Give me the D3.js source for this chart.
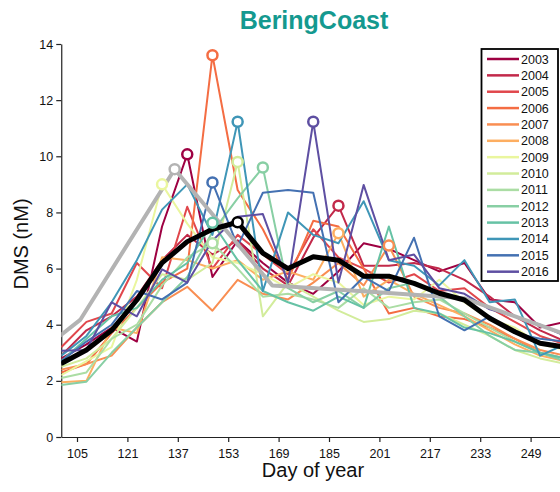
<!DOCTYPE html>
<html>
<head>
<meta charset="utf-8">
<script src="https://cdn.jsdelivr.net/npm/d3@7"></script>
<style>
  body { margin: 0; background: #fff; }
  text { font-family: "Liberation Sans", Arial, sans-serif; }
</style>
</head>
<body>
<div id="chart"></div>
<script>
// 8-day composites, day of year
const days = [100, 108, 116, 124, 132, 140, 148, 156, 164, 172, 180, 188, 196, 204, 212, 220, 228, 236, 244, 252, 260]
const years = ["2003", "2004", "2005", "2006", "2007", "2008", "2009", "2010", "2011", "2012", "2013", "2014", "2015", "2016"]
const yearColors = ["#9e0142", "#c2294a", "#e0474c", "#f46d43", "#f98e52", "#fdae61", "#eaf69e",
    "#d2ec9b", "#abdda4", "#88cfa4", "#66c2a5", "#3f96b7", "#4471b2", "#5e4fa2"]

const dms2003 = [2.8, 3.3, 3.9, 3.4, 7.5, 10.07, 5.7, 7.0, 6.2, 5.5, 5.1, 5.9, 6.9, 6.7, 6.3, 5.9, 6.2, 4.9, 4.8, 3.9, 4.1]
const dms2004 = [2.9, 3.8, 4.3, 5.0, 6.3, 7.2, 6.5, 7.0, 6.0, 5.4, 7.1, 8.24, 6.1, 6.1, 6.2, 6.0, 5.6, 5.0, 4.3, 3.8, 3.4]
const dms2005 = [3.2, 4.1, 4.4, 6.2, 5.3, 8.2, 6.0, 7.2, 6.5, 5.8, 7.4, 6.4, 6.0, 5.5, 5.8, 5.2, 5.3, 4.6, 4.1, 3.6, 3.3]
const dms2006 = [2.3, 2.6, 3.7, 4.6, 5.5, 6.0, 13.6, 8.8, 7.4, 5.6, 7.7, 7.5, 6.0, 4.4, 4.6, 4.3, 4.2, 3.9, 3.5, 3.0, 2.8]
const dms2007 = [2.4, 2.6, 2.9, 3.9, 4.8, 5.35, 4.5, 5.6, 5.1, 4.9, 5.5, 6.2, 5.4, 6.82, 5.0, 4.6, 4.4, 4.0, 3.5, 3.1, 2.9]
const dms2008 = [1.95, 2.0, 3.9, 3.7, 6.4, 6.3, 6.0, 6.3, 5.6, 5.9, 5.6, 7.26, 5.0, 5.6, 5.1, 4.7, 4.3, 3.8, 3.3, 2.9, 2.7]
const dms2009 = [2.2, 2.7, 3.2, 5.6, 9.0, 7.6, 6.4, 6.2, 5.8, 5.3, 5.8, 5.5, 4.7, 5.0, 4.9, 5.6, 4.8, 4.2, 3.9, 3.3, 3.1]
const dms2010 = [2.5, 2.8, 3.5, 4.6, 5.8, 5.6, 6.2, 9.8, 4.3, 5.5, 5.0, 4.5, 4.1, 4.2, 4.5, 4.4, 4.0, 3.6, 3.1, 2.8, 2.6]
const dms2011 = [2.1, 2.3, 3.5, 4.0, 5.4, 6.4, 6.9, 6.0, 5.0, 5.1, 4.9, 4.6, 5.3, 4.6, 4.8, 4.9, 4.4, 3.9, 3.4, 3.0, 2.8]
const dms2012 = [1.85, 1.97, 3.0, 3.9, 4.8, 5.7, 7.3, 8.5, 9.6, 5.3, 4.8, 5.2, 4.6, 5.3, 5.5, 5.0, 4.3, 3.6, 3.1, 3.0, 2.7]
const dms2013 = [2.7, 3.5, 4.3, 4.6, 5.6, 6.2, 7.63, 6.3, 5.2, 4.8, 4.5, 5.0, 4.6, 7.5, 4.6, 4.4, 3.9, 3.7, 3.4, 3.0, 2.8]
const dms2014 = [2.9, 3.6, 4.8, 6.3, 8.1, 9.0, 7.2, 11.23, 5.2, 8.0, 7.2, 6.9, 8.4, 6.3, 6.1, 5.4, 6.3, 4.8, 4.9, 2.9, 3.3]
const dms2015 = [2.7, 3.4, 4.0, 5.2, 4.9, 5.5, 9.07, 6.8, 8.7, 8.8, 8.7, 4.8, 5.7, 5.2, 7.1, 4.3, 3.8, 4.3, 3.7, 3.5, 3.4]
const dms2016 = [3.07, 3.1, 4.8, 4.3, 5.97, 5.5, 7.0, 7.85, 7.94, 5.5, 11.23, 5.5, 8.98, 6.3, 6.5, 5.3, 5.1, 4.55, 4.3, 4.0, 3.6]
const yearValues = [dms2003, dms2004, dms2005, dms2006, dms2007, dms2008, dms2009, dms2010,
    dms2011, dms2012, dms2013, dms2014, dms2015, dms2016]
// index of the bloom peak that gets a marker (null = none shown)
const peakIdx = [5, 11, null, 6, 13, 11, 4, 7, 6, 8, 6, 7, 6, 10]

// multi-year mean (black) and monthly climatology (grey)
const meanValues = [2.62, 3.1, 3.8, 4.88, 6.2, 6.96, 7.4, 7.65, 6.55, 6.0, 6.42, 6.3, 5.73, 5.73, 5.47, 5.12, 4.88, 4.23, 3.75, 3.34, 3.2]
const climDays = [75, 106, 136, 167, 197, 228, 259]
const climValues = [1.45, 4.17, 9.54, 5.4, 5.18, 4.94, 3.7]

const xTicks = [105, 121, 137, 153, 169, 185, 201, 217, 233, 249]
const yTicks = [0, 2, 4, 6, 8, 10, 12, 14]

var width = 560, height = 492

var svg = d3.select("#chart").append("svg")
    .attr("width", width)
    .attr("height", height)

var x = d3.scaleLinear().domain([100, 260]).range([61.25, 565.25])
var y = d3.scaleLinear().domain([0, 14]).range([437, 44])

var color = d3.scaleOrdinal().domain(years).range(yearColors)

svg.append("defs").append("clipPath").attr("id", "plotclip")
    .append("rect")
    .attr("x", x(100)).attr("y", 0)
    .attr("width", x(260) - x(100)).attr("height", y(0))

// axes
var xAxis = svg.append("g")
    .attr("transform", "translate(0," + y(0) + ")")
    .call(d3.axisBottom(x).tickValues(xTicks).tickSize(5).tickSizeOuter(0))
var yAxis = svg.append("g")
    .attr("transform", "translate(" + x(100) + ",0)")
    .call(d3.axisLeft(y).tickValues(yTicks).tickSize(5).tickSizeOuter(0))

;[xAxis, yAxis].forEach(function(ax) {
    ax.select(".domain").attr("stroke", "#222").attr("stroke-width", 1.2)
    ax.selectAll(".tick line").attr("stroke", "#222").attr("stroke-width", 1.2)
    ax.selectAll(".tick text")
        .style("font-family", "'Liberation Sans', Arial, sans-serif")
        .style("font-size", "12.5px")
        .attr("fill", "#111")
})
xAxis.selectAll(".tick text").attr("dy", "1em")

var plot = svg.append("g").attr("clip-path", "url(#plotclip)")

var line = d3.line()
    .x(function(d) { return x(d[0]) })
    .y(function(d) { return y(d[1]) })

// one line per year
years.forEach(function(yr, i) {
    plot.append("path")
        .datum(days.map((d, j) => [d, yearValues[i][j]]))
        .attr("d", line)
        .attr("fill", "none")
        .attr("stroke", color(yr))
        .attr("stroke-width", 2)
        .attr("stroke-linejoin", "round")
})

// climatology
plot.append("path")
    .datum(climDays.map((d, j) => [d, climValues[j]]))
    .attr("d", line)
    .attr("fill", "none")
    .attr("stroke", "#b3b3b3")
    .attr("stroke-width", 4)
    .attr("stroke-linejoin", "round")

// mean
plot.append("path")
    .datum(days.map((d, j) => [d, meanValues[j]]))
    .attr("d", line)
    .attr("fill", "none")
    .attr("stroke", "#000")
    .attr("stroke-width", 5)
    .attr("stroke-linejoin", "round")

// peak markers
years.forEach(function(yr, i) {
    if (peakIdx[i] == null) return
    var k = peakIdx[i]
    plot.append("circle")
        .attr("cx", x(days[k]))
        .attr("cy", y(yearValues[i][k]))
        .attr("r", 5)
        .attr("fill", "#fff")
        .attr("stroke", color(yr))
        .attr("stroke-width", 2.5)
})
var ci = climValues.indexOf(d3.max(climValues))
plot.append("circle")
    .attr("cx", x(climDays[ci])).attr("cy", y(climValues[ci])).attr("r", 5)
    .attr("fill", "#fff").attr("stroke", "#b3b3b3").attr("stroke-width", 2.5)
var mi = meanValues.indexOf(d3.max(meanValues))
plot.append("circle")
    .attr("cx", x(days[mi])).attr("cy", y(meanValues[mi])).attr("r", 5)
    .attr("fill", "#fff").attr("stroke", "#000").attr("stroke-width", 2.5)

// labels
svg.append("text")
    .attr("x", 314).attr("y", 29)
    .attr("text-anchor", "middle")
    .style("font-size", "25px").style("font-weight", "bold")
    .attr("fill", "#14998f")
    .text("BeringCoast")

svg.append("text")
    .attr("x", 313).attr("y", 477)
    .attr("text-anchor", "middle")
    .style("font-size", "20px")
    .attr("fill", "#111")
    .text("Day of year")

svg.append("text")
    .attr("transform", "translate(28,244) rotate(-90)")
    .attr("text-anchor", "middle")
    .style("font-size", "20px")
    .attr("fill", "#111")
    .text("DMS (nM)")

// legend
var legend = svg.append("g")
legend.append("rect")
    .attr("x", 481.5).attr("y", 49)
    .attr("width", 76.5).attr("height", 232)
    .attr("fill", "#fff").attr("stroke", "#000").attr("stroke-width", 1.8)

var item = legend.selectAll(".item")
    .data(years)
    .enter().append("g")
    .attr("transform", function(d, i) { return "translate(0," + (59 + i * 16.36) + ")" })
item.append("line")
    .attr("x1", 487).attr("x2", 519)
    .attr("stroke", function(d) { return color(d) })
    .attr("stroke-width", 2.5)
item.append("text")
    .attr("x", 521).attr("dy", "0.36em")
    .style("font-size", "12.5px")
    .attr("fill", "#111")
    .text(function(d) { return d })
</script>
</body>
</html>
